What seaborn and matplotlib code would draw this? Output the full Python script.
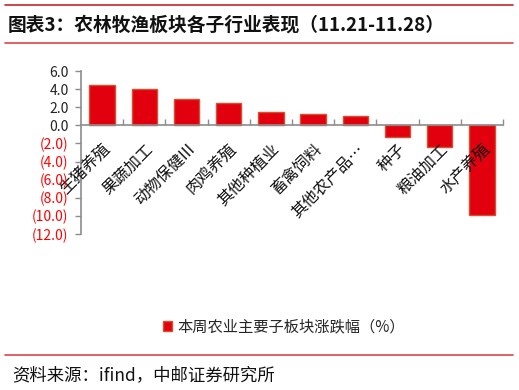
import matplotlib
matplotlib.use("Agg")
import matplotlib.pyplot as plt
import seaborn as sns
import pandas as pd
from matplotlib.lines import Line2D
from matplotlib.ticker import FixedLocator

categories = ["生猪养殖", "果蔬加工", "动物保健III", "肉鸡养殖", "其他种植业",
              "畜禽饲料", "其他农产品…", "种子", "粮油加工", "水产养殖"]
values = [4.4, 4.0, 2.9, 2.45, 1.45, 1.3, 1.0, -1.25, -2.4, -9.85]
series_name = "本周农业主要子板块涨跌幅（%）"
yticks = [6, 4, 2, 0, -2, -4, -6, -8, -10, -12]
title = "图表3：农林牧渔板块各子行业表现（11.21-11.28）"
source = "资料来源：ifind，中邮证券研究所"

sns.set_theme(style="white")
plt.rcParams['font.family'] = ['Noto Sans CJK SC', 'DejaVu Sans']

df = pd.DataFrame({"cat": categories, "val": values, "series": series_name})

fig = plt.figure(figsize=(5.19, 3.90), dpi=100)
ax = fig.add_axes([81/519, 1-234/390, (503-81)/519, (234-71)/390])

sns.barplot(data=df, x="cat", y="val", hue="series", palette=["#E2000F"],
            saturation=1, edgecolor="#D4502F", linewidth=1.0, width=0.6,
            ax=ax, legend=True)
ax.set_axisbelow(False)

ax.set_ylim(-12, 6)
ax.set_xlim(-0.5, len(categories) - 0.5)
ax.set_xlabel("")
ax.set_ylabel("")

for s in ["top", "right"]:
    ax.spines[s].set_visible(False)
ax.spines["bottom"].set_position(("data", 0))
ax.spines["bottom"].set_color("#8C8C8C")
ax.spines["left"].set_color("#8C8C8C")
ax.spines["bottom"].set_linewidth(1.2)
ax.spines["left"].set_linewidth(1.2)

ax.set_yticks(yticks)
ylabels = []
for v in yticks:
    ylabels.append(f"{v:.1f}" if v >= 0 else f"({-v:.1f})")
ax.set_yticklabels(ylabels, fontsize=10)
for lbl, v in zip(ax.get_yticklabels(), yticks):
    lbl.set_color("#FF0000" if v < 0 else "#222222")
ax.tick_params(axis="y", direction="out", length=4, width=1, color="#8C8C8C", pad=5, left=True)

ax.set_xticks(range(len(categories)))
ax.set_xticklabels(categories, rotation=45, ha="right", va="top",
                   rotation_mode="anchor", fontsize=11.5, color="#111111")
ax.tick_params(axis="x", which="major", length=0, pad=11, bottom=True)
ax.xaxis.set_minor_locator(FixedLocator([i + 0.5 for i in range(len(categories))]))
ax.tick_params(axis="x", which="minor", direction="in", length=4, width=1,
               color="#8C8C8C", bottom=True)

leg = ax.legend(loc="center", bbox_to_anchor=(284/519, 1-327/390),
                bbox_transform=fig.transFigure, frameon=False, fontsize=11,
                handlelength=0.6, handleheight=0.6, handletextpad=0.3)
for h in leg.legend_handles:
    h.set_edgecolor("#D4502F")

fig.text(8/519, 1-25/390, title, fontsize=13.5, fontweight="bold",
         va="center", ha="left", color="#111111")
fig.add_artist(Line2D([5/519, 513/519], [1-5/390, 1-5/390], color="#C0282D", lw=1.2))
fig.add_artist(Line2D([5/519, 513/519], [1-43/390, 1-43/390], color="#D8474C", lw=1.2))
fig.add_artist(Line2D([5/519, 513/519], [1-355/390, 1-355/390], color="#D8474C", lw=1.2))
fig.text(12/519, 1-375/390, source, fontsize=12.5, va="center", ha="left", color="#111111")

fig.savefig("out.png", dpi=100)
